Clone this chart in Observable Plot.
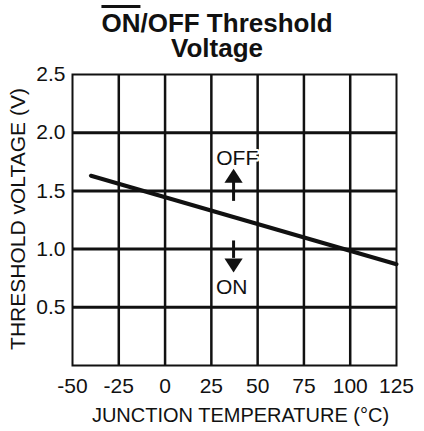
<!DOCTYPE html>
<html><head><meta charset="utf-8">
<script src="https://cdn.jsdelivr.net/npm/d3@7"></script>
<script src="https://cdn.jsdelivr.net/npm/@observablehq/plot@0.6"></script>
<style>
body{margin:0;background:#fff;font-family:"Liberation Sans",Arial,sans-serif;color:#111}
#title{width:424px;box-sizing:border-box;padding:11px 0 0 10px;height:60px;text-align:center;font-weight:bold;font-size:26px;line-height:25px}
.ov{text-decoration:overline;text-decoration-thickness:3px}
</style></head><body>
<div id="title"><span class="ov">ON</span>/OFF Threshold<br>Voltage</div>
<div id="chart"></div>
<script>
// data
const temperature = [-40, 125];
const thresholdVoltage = [1.63, 0.87];
const xTicks = [-50, -25, 0, 25, 50, 75, 100, 125];
const yTicks = [0.5, 1.0, 1.5, 2.0, 2.5];
const labelText = ["OFF", "ON"];
const labelTemp = [39, 36];
const labelVolt = [1.78, 0.67];
const arrowTemp = [37, 37];
const arrowStart = [1.41, 1.07];
const arrowEnd = [1.58, 0.92];
const arrowTip = [1.69, 0.80];
const xLabel = "JUNCTION TEMPERATURE (°C)";
const yLabel = "THRESHOLD vOLTAGE (V)";

const triUp = {draw(ctx, size) {const r = Math.sqrt(size / Math.PI); ctx.moveTo(0, 0); ctx.lineTo(1.3 * r, 2 * r); ctx.lineTo(-1.3 * r, 2 * r); ctx.closePath();}};
const triDown = {draw(ctx, size) {const r = Math.sqrt(size / Math.PI); ctx.moveTo(0, 0); ctx.lineTo(1.3 * r, -2 * r); ctx.lineTo(-1.3 * r, -2 * r); ctx.closePath();}};

const ink = "#111";
const chart = Plot.plot({
  width: 424, height: 371,
  marginTop: 14, marginLeft: 72, marginRight: 28, marginBottom: 66,
  style: {fontFamily: "'Liberation Sans', Arial, sans-serif", fontSize: "20px", color: ink, background: "#fff", overflow: "visible"},
  x: {domain: [-50, 125]},
  y: {domain: [0, 2.5]},
  marks: [
    Plot.gridX(xTicks.slice(1, -1), {stroke: ink, strokeOpacity: 1, strokeWidth: 2.5}),
    Plot.gridY(yTicks.slice(0, -1), {stroke: ink, strokeOpacity: 1, strokeWidth: 3}),
    Plot.frame({stroke: ink, strokeWidth: 2}),
    Plot.axisX(xTicks, {tickSize: 0, tickPadding: 13, fontSize: 21, label: null, tickFormat: d => `${d}`}),
    Plot.axisY(yTicks, {tickSize: 0, tickPadding: 7, fontSize: 21, label: null, tickFormat: d3.format(".1f")}),
    Plot.line(temperature, {x: temperature, y: thresholdVoltage, stroke: ink, strokeWidth: 4}),
    Plot.ruleX(arrowTemp, {x: arrowTemp, y1: arrowStart, y2: arrowEnd, stroke: ink, strokeWidth: 3}),
    Plot.dot([arrowTemp[0]], {x: [arrowTemp[0]], y: [arrowTip[0]], symbol: triUp, r: 7, fill: ink, stroke: "none"}),
    Plot.dot([arrowTemp[1]], {x: [arrowTemp[1]], y: [arrowTip[1]], symbol: triDown, r: 7, fill: ink, stroke: "none"}),
    Plot.text(labelText, {x: labelTemp, y: labelVolt, text: labelText, fontSize: 21, fill: ink, stroke: "white", strokeWidth: 4}),
    Plot.text([xLabel], {frameAnchor: "bottom", lineAnchor: "middle", text: [xLabel], dx: 6, dy: 50.5, fontSize: 20, fill: ink}),
    Plot.text([yLabel], {frameAnchor: "left", textAnchor: "middle", lineAnchor: "middle", text: [yLabel], rotate: -90, dx: -54, dy: -1, fontSize: 21, fill: ink})
  ]
});
document.getElementById("chart").appendChild(chart);
</script>
</body></html>
